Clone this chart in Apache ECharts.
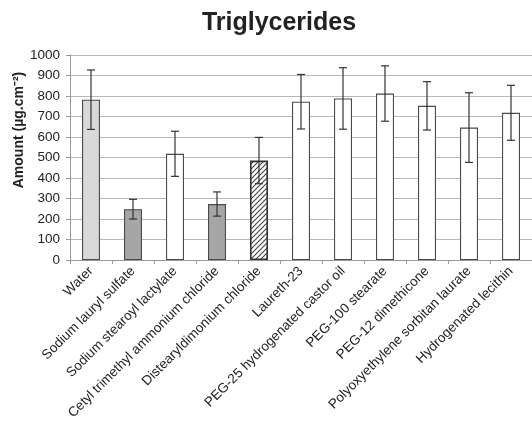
<!DOCTYPE html>
<html><head><meta charset="utf-8">
<script src="https://cdn.jsdelivr.net/npm/echarts@6/dist/echarts.min.js"></script>
<style>html,body{margin:0;padding:0;background:#fff}#c{width:532px;height:425px}</style>
</head><body><div id="c"></div>
<script>
const categories = ['Water','Sodium lauryl sulfate','Sodium stearoyl lactylate','Cetyl trimethyl ammonium chloride','Distearyldimonium chloride','Laureth-23','PEG-25 hydrogenated castor oil','PEG-100 stearate','PEG-12 dimethicone','Polyoxyethylene sorbitan laurate','Hydrogenated lecithin'];
const amounts = [782, 248, 518, 273, 485, 772, 788, 812, 752, 646, 718];
const errors = [145, 48, 110, 59, 113, 133, 150, 135, 118, 170, 134];
const fillTypes = ['light','dark','white','dark','hatch','white','white','white','white','white','white'];
const yTicks = [0,100,200,300,400,500,600,700,800,900,1000];
const yAxisTitle = 'Amount (µg.cm⁻²)';

function hatch(){
  const c = document.createElement('canvas'); c.width = 5; c.height = 5;
  const g = c.getContext('2d');
  g.fillStyle = '#fff'; g.fillRect(0,0,5,5);
  g.strokeStyle = '#444'; g.lineWidth = 1.1;
  g.beginPath();
  g.moveTo(-1,6); g.lineTo(6,-1);
  g.moveTo(-1,1); g.lineTo(1,-1);
  g.moveTo(4,6); g.lineTo(6,4);
  g.stroke();
  return {image: c, repeat: 'repeat'};
}
const fills = {light:'#d9d9d9', dark:'#a6a6a6', white:'#ffffff', hatch: hatch()};

const chart = echarts.init(document.getElementById('c'), null, {renderer:'canvas'});
chart.setOption({
  animation:false,
  title:{text:'Triglycerides', left:274, top:6, textAlign:'center',
    textStyle:{fontFamily:'Liberation Sans, Arial', fontSize:25, fontWeight:'bold', color:'#222'}},
  graphic:[{type:'text', x:19, y:130, rotation:Math.PI/2,
    style:{text:yAxisTitle, textAlign:'center', textVerticalAlign:'middle',
      font:'bold 14px "Liberation Sans", Arial', fill:'#222'}}],
  grid:{left:70, top:55, width:472, bottom:165, containLabel:false},
  xAxis:{type:'category', data:categories,
    axisLine:{lineStyle:{color:'#999'}},
    axisTick:{show:true, length:4, lineStyle:{color:'#999'}},
    axisLabel:{rotate:45, interval:0, margin:9, fontFamily:'Liberation Sans, Arial', fontSize:13.5, color:'#222'}},
  yAxis:{type:'value', min:0, max:1000, interval:100,
    axisLine:{show:true, lineStyle:{color:'#999'}},
    axisTick:{show:true, length:4, lineStyle:{color:'#999'}},
    axisLabel:{margin:10, fontFamily:'Liberation Sans, Arial', fontSize:13.5, color:'#222',
      formatter:v=>yTicks.includes(v)?String(v):''},
    splitLine:{lineStyle:{color:'#b8b8b8', width:1}}},
  series:[
    {type:'bar', barWidth:18,
      data: amounts.map((v,i)=>({value:v, itemStyle:{color:fills[fillTypes[i]],
        borderColor: fillTypes[i]==='hatch' ? '#333' : '#4a4a4a', borderWidth: fillTypes[i]==='hatch' ? 1.6 : 1.1}}))},
    {type:'custom', z:10,
      data: amounts.map((v,i)=>[i, v-errors[i], v+errors[i]]),
      renderItem:(params, api)=>{
        const lo = api.coord([api.value(0), api.value(1)]);
        const hi = api.coord([api.value(0), api.value(2)]);
        const x = lo[0], w = 4;
        const st = {stroke:'#333', lineWidth:1.2};
        return {type:'group', children:[
          {type:'line', shape:{x1:x, y1:lo[1], x2:x, y2:hi[1]}, style:st},
          {type:'line', shape:{x1:x-w, y1:lo[1], x2:x+w, y2:lo[1]}, style:st},
          {type:'line', shape:{x1:x-w, y1:hi[1], x2:x+w, y2:hi[1]}, style:st}
        ]};
      }}
  ]
});
</script></body></html>
